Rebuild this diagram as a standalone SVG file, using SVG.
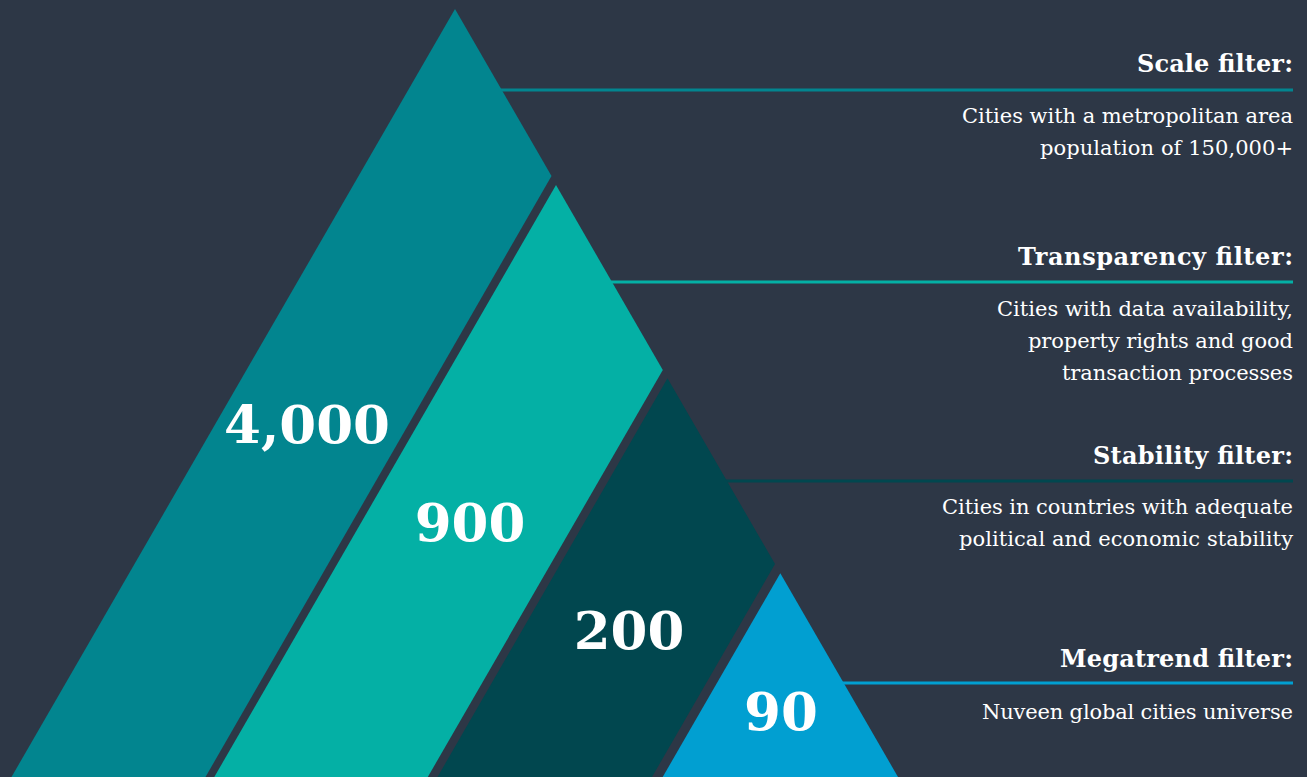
<svg xmlns="http://www.w3.org/2000/svg" width="1307" height="777" viewBox="0 0 1307 777">
  <style>
    .num { font-family: "DejaVu Serif", "Liberation Serif", serif; font-weight: bold; font-size: 53px; fill: #ffffff; text-anchor: middle; }
    .head { font-family: "DejaVu Serif", "Liberation Serif", serif; font-weight: bold; font-size: 24px; fill: #ffffff; text-anchor: end; }
    .body { font-family: "DejaVu Serif", "Liberation Serif", serif; font-size: 21px; fill: #ffffff; text-anchor: end; }
    .rule { stroke-width: 3; fill: none; }
  </style>
  <rect x="0" y="0" width="1307" height="777" fill="#2D3746"/>

  <g id="connectors">
    <line class="rule" x1="500" y1="90" x2="1293" y2="90" stroke="#02858F"/>
    <line class="rule" x1="611" y1="282" x2="1293" y2="282" stroke="#04B0A5"/>
    <line class="rule" x1="726" y1="481" x2="1293" y2="481" stroke="#01474F"/>
    <line class="rule" x1="842" y1="683" x2="1293" y2="683" stroke="#019FD1"/>
  </g>

  <g id="scale-band">
    <polygon points="455,9 551.5,176 205.5,777 11.5,777" fill="#02858F"/>
    <text class="num" x="307" y="443">4,000</text>
  </g>
  <g id="transparency-band">
    <polygon points="556,185 662.8,370 427.8,777 214.3,777" fill="#04B0A5"/>
    <text class="num" x="470" y="541">900</text>
  </g>
  <g id="stability-band">
    <polygon points="667.5,378.3 775,564 652,777 437.5,777" fill="#01474F"/>
    <text class="num" x="629" y="649">200</text>
  </g>
  <g id="megatrend-band">
    <polygon points="780.3,573.3 898,777 662.7,777" fill="#019FD1"/>
    <text class="num" x="781" y="730">90</text>
  </g>

  <g id="scale-label">
    <text class="head" x="1293" y="72" textLength="156">Scale filter:</text>
    <text class="body" x="1293" y="123" textLength="331">Cities with a metropolitan area</text>
    <text class="body" x="1293" y="155" textLength="253">population of 150,000+</text>
  </g>
  <g id="transparency-label">
    <text class="head" x="1293" y="265" textLength="275">Transparency filter:</text>
    <text class="body" x="1293" y="316" textLength="296">Cities with data availability,</text>
    <text class="body" x="1293" y="348" textLength="265">property rights and good</text>
    <text class="body" x="1293" y="380" textLength="231">transaction processes</text>
  </g>
  <g id="stability-label">
    <text class="head" x="1293" y="464" textLength="200">Stability filter:</text>
    <text class="body" x="1293" y="514" textLength="351">Cities in countries with adequate</text>
    <text class="body" x="1293" y="546" textLength="334">political and economic stability</text>
  </g>
  <g id="megatrend-label">
    <text class="head" x="1293" y="667" textLength="233">Megatrend filter:</text>
    <text class="body" x="1293" y="719" textLength="311">Nuveen global cities universe</text>
  </g>
</svg>
